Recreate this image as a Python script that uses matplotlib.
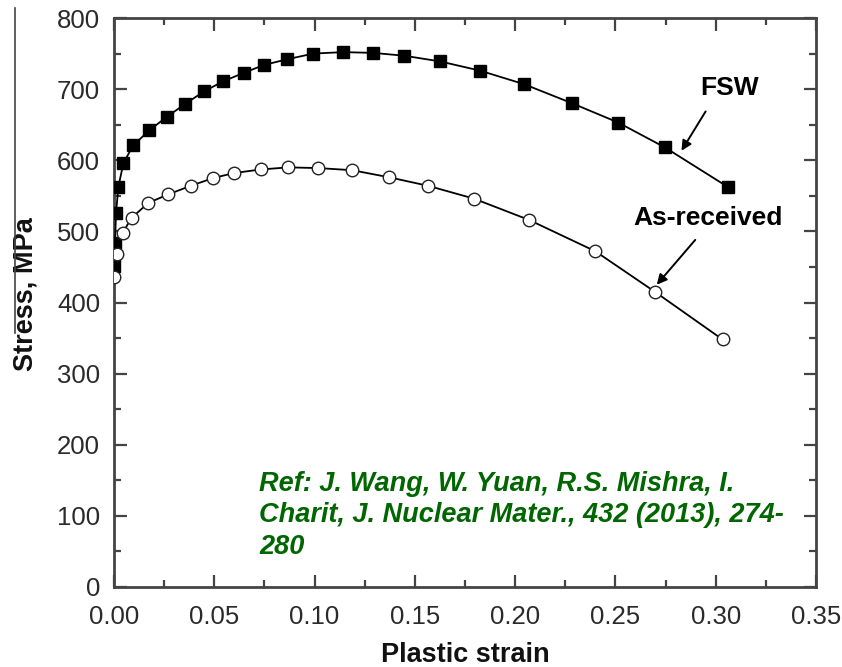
import matplotlib
matplotlib.use("Agg")
import matplotlib.pyplot as plt
from matplotlib.lines import Line2D
from matplotlib.ticker import MultipleLocator, FormatStrFormatter

plt.rcParams['font.family'] = ['Liberation Sans', 'DejaVu Sans']

fsw_strain = [0.0, 0.0005, 0.001, 0.0022, 0.0047, 0.0096, 0.0176, 0.0263, 0.0354, 0.045,
              0.0545, 0.0648, 0.0748, 0.0864, 0.0994, 0.1143, 0.129, 0.1446, 0.1625, 0.1825,
              0.2044, 0.2285, 0.2514, 0.2747, 0.3063]
fsw_stress = [452, 483, 526, 563, 596, 621, 642, 661, 679, 697, 711, 723, 734, 742, 750,
              752, 751, 747, 739, 726, 707, 680, 653, 618, 562]

asr_strain = [0.0, 0.0013, 0.0043, 0.0088, 0.0171, 0.027, 0.0382, 0.0495, 0.0598, 0.0731,
              0.0869, 0.1019, 0.1188, 0.1373, 0.1567, 0.1795, 0.207, 0.240, 0.2697, 0.3034]
asr_stress = [436, 468, 498, 519, 540, 552, 564, 575, 582, 587, 590, 589, 586, 576, 564,
              546, 516, 472, 415, 348]

fig = plt.figure(figsize=(8.42, 6.67), dpi=100)
ax = fig.add_axes([114/842, 1-587/667, (816-114)/842, (587-18)/667])

ax.plot(fsw_strain, fsw_stress, color='black', lw=1.3, marker='s', ms=8,
        mfc='black', mec='black', zorder=3)
ax.plot(asr_strain, asr_stress, color='black', lw=1.3, marker='o', ms=9,
        mfc='white', mec='#222222', mew=1.0, zorder=4)

ax.set_xlim(0, 0.35)
ax.set_ylim(0, 800)
ax.xaxis.set_major_locator(MultipleLocator(0.05))
ax.xaxis.set_minor_locator(MultipleLocator(0.025))
ax.yaxis.set_major_locator(MultipleLocator(100))
ax.yaxis.set_minor_locator(MultipleLocator(50))
ax.xaxis.set_major_formatter(FormatStrFormatter('%.2f'))

ax.tick_params(which='both', direction='in', top=True, right=True,
               color='#444444', width=1.6)
ax.tick_params(which='major', length=9, labelsize=18.5, labelcolor='#2a2a2a')
ax.tick_params(axis='x', which='major', pad=13)
ax.tick_params(axis='y', which='major', pad=10)
ax.tick_params(which='minor', length=5)
for s in ax.spines.values():
    s.set_linewidth(2.0)
    s.set_color('#444444')

ax.set_xlabel('Plastic strain', fontsize=19.5, fontweight='bold', color='#111111')
ax.xaxis.set_label_coords(0.5, -0.097)
ax.set_ylabel('Stress, MPa', fontsize=19.5, fontweight='bold', color='#111111')
ax.yaxis.set_label_coords(-0.108, 0.515)

ax.text(0.307, 702, 'FSW', fontsize=19, fontweight='bold', ha='center', va='center')
ax.text(0.296, 519, 'As-received', fontsize=19, fontweight='bold', ha='center', va='center')
ax.annotate('', xy=(0.2822, 610), xytext=(0.2957, 672),
            arrowprops=dict(arrowstyle='-|>', color='black', lw=1.4, mutation_scale=15))
ax.annotate('', xy=(0.2697, 422), xytext=(0.2907, 491),
            arrowprops=dict(arrowstyle='-|>', color='black', lw=1.4, mutation_scale=15))

ax.text((259-114)/702, (587-471)/569,
        'Ref: J. Wang, W. Yuan, R.S. Mishra, I.\nCharit, J. Nuclear Mater., 432 (2013), 274-\n280',
        transform=ax.transAxes, fontsize=19.5, fontweight='bold', style='italic',
        color='#006600', ha='left', va='top', linespacing=1.27)

fig.add_artist(Line2D([15/842, 15/842], [1-8/667, 1-333/667], color='#444444', lw=1.2,
                      transform=fig.transFigure))

fig.savefig('out.png', dpi=100)
